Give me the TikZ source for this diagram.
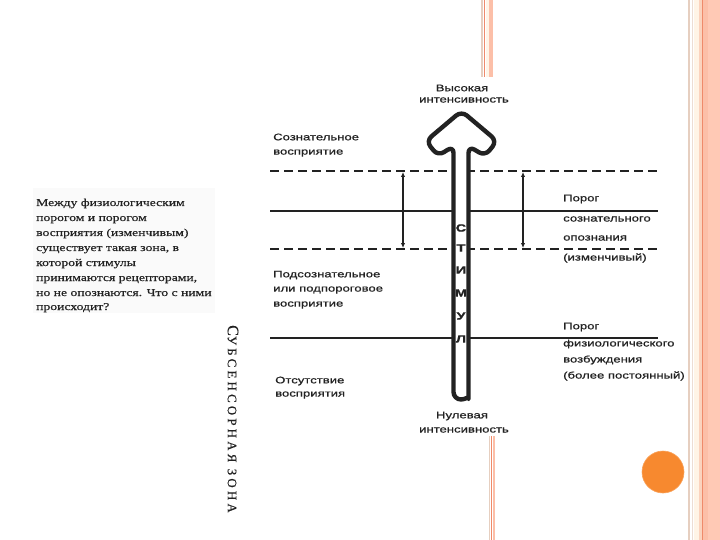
\documentclass[tikz,border=0pt]{standalone}
\usepackage{fontspec}
\setmainfont{Liberation Serif}
\newfontfamily\lab[FakeStretch=1.38,FakeBold=0.8]{Liberation Sans}
\newfontfamily\para[FakeStretch=1.3,FakeBold=0.4]{Liberation Serif}
\newfontfamily\vertfont[LetterSpace=24,FakeBold=0.3]{Liberation Serif}
\usetikzlibrary{arrows.meta}
\definecolor{ink}{HTML}{222222}
\definecolor{orng}{HTML}{F7892F}
\definecolor{tan}{HTML}{E6CFC0}
\definecolor{cream}{HTML}{FFF4E6}
\definecolor{peach}{HTML}{FBD3BE}
\definecolor{darkor}{HTML}{EF8A6A}
\definecolor{salm}{HTML}{FCBFA8}
\definecolor{lsalm}{HTML}{FFC9B5}
\tikzset{
  lbl/.style={font=\lab\fontsize{9.5}{11}\selectfont, text=ink, anchor=west, inner sep=0pt},
  clbl/.style={font=\lab\fontsize{9.5}{11}\selectfont, text=ink, anchor=center, inner sep=0pt},
  ptxt/.style={font=\para\fontsize{10.5}{12}\selectfont, text=ink, anchor=base west, inner sep=0pt},
  tubelet/.style={font=\lab\bfseries\fontsize{10.5}{11}\selectfont, text=ink, anchor=center, inner sep=0pt},
  solidln/.style={draw=ink, line width=1.4pt},
  dashln/.style={draw=ink, line width=1.7pt, dash pattern=on 9pt off 5pt},
  tube/.style={draw=ink, line width=4.4pt, fill=white, line join=round},
  dbl/.style={draw=ink, line width=1.3pt, {Latex[length=5pt,width=4.5pt]}-{Latex[length=5pt,width=4.5pt]}}
}
\begin{document}
\begin{tikzpicture}[x=1pt,y=-1pt]
\useasboundingbox (0,0) rectangle (720,540);
\fill[white] (0,0) rectangle (720,540);
% decorative stripes right edge
\fill[tan] (687.5,0) rectangle (689.5,540);
\fill[tan!70] (692,0) rectangle (693,540);
\fill[cream] (694,0) rectangle (699,540);
\fill[peach] (699,0) rectangle (701.5,540);
\fill[darkor] (701.5,0) rectangle (703,540);
\fill[salm] (703,0) rectangle (707.5,540);
\fill[lsalm] (707.5,0) rectangle (720,540);
% decorative stripes top and bottom
\fill[tan] (481,0) rectangle (483,77);
\fill[darkor] (484,0) rectangle (485,77);
\fill[cream] (486,0) rectangle (489,77);
\fill[salm] (489,0) rectangle (492.5,77);
\fill[tan] (488.5,436) rectangle (490,540);
\fill[darkor] (491,436) rectangle (492,540);
\fill[salm] (493,436) rectangle (494.5,540);
% orange circle
\node[circle, fill=orng, draw=orng!80!white, line width=0.6pt, minimum size=42pt, inner sep=0pt] (dot) at (663,472) {};
% paragraph backdrop
\fill[black!2] (33,188) rectangle (215,313);
\node[ptxt] (p1) at (36,206) {Между физиологическим};
\node[ptxt] (p2) at (36,221) {порогом и порогом};
\node[ptxt] (p3) at (36,236) {восприятия (изменчивым)};
\node[ptxt] (p4) at (36,251) {существует такая зона, в};
\node[ptxt] (p5) at (36,266) {которой стимулы};
\node[ptxt] (p6) at (36,281) {принимаются рецепторами,};
\node[ptxt] (p7) at (36,296) {но не опознаются. Что с ними};
\node[ptxt] (p8) at (36,310) {происходит?};
% vertical label
\node[rotate=-90, anchor=west, inner sep=0pt, text=ink] (sub) at (233,325)
  {\vertfont\fontsize{16}{16}\selectfont С\fontsize{13}{13}\selectfont УБСЕНСОРНАЯ ЗОНА};
% horizontal lines
\coordinate (ud1) at (270,171); \coordinate (ud2) at (658,171);
\coordinate (s11) at (270,211); \coordinate (s12) at (658,211);
\coordinate (ld1) at (270,249); \coordinate (ld2) at (658,249);
\coordinate (s21) at (270,338); \coordinate (s22) at (658,338);
\draw[dashln] (ud1) -- (ud2);
\draw[solidln] (s11) -- (s12);
\draw[dashln] (ld1) -- (ld2);
\draw[solidln] (s21) -- (s22);
% double arrows
\coordinate (a1t) at (403,172); \coordinate (a1b) at (403,248);
\coordinate (a2t) at (523,172); \coordinate (a2b) at (523,248);
\draw[dbl] (a1t) -- (a1b);
\draw[dbl] (a2t) -- (a2b);
% stimulus tube with arrow head
\draw[tube, rounded corners=7pt] (453.5,392) -- (453.5,146) -- (438,156) -- (426,141) -- (461.5,111) -- (497,141) -- (485,156) -- (468.5,146) -- (468.5,392) [sharp corners] arc[start angle=0, end angle=180, radius=7.5] -- cycle;
\node[tubelet] (c1) at (461,228) {С};
\node[tubelet] (c2) at (461,248) {Т};
\node[tubelet] (c3) at (461,270) {И};
\node[tubelet] (c4) at (461,293) {М};
\node[tubelet] (c5) at (461,316) {У};
\node[tubelet] (c6) at (461,339) {Л};
% labels
\node[clbl] (hi1) at (462,88) {Высокая};
\node[clbl] (hi2) at (464,100) {интенсивность};
\node[lbl] (cons1) at (273,137) {Сознательное};
\node[lbl] (cons2) at (273,153) {восприятие};
\node[lbl] (t1a) at (563,199) {Порог};
\node[lbl] (t1b) at (563,219) {сознательного};
\node[lbl] (t1c) at (563,238) {опознания};
\node[lbl] (t1d) at (563,258) {(изменчивый)};
\node[lbl] (sub1) at (273,275) {Подсознательное};
\node[lbl] (sub2) at (273,290) {или подпороговое};
\node[lbl] (sub3) at (273,305) {восприятие};
\node[lbl] (t2a) at (563,327) {Порог};
\node[lbl] (t2b) at (563,344) {физиологического};
\node[lbl] (t2c) at (563,360) {возбуждения};
\node[lbl] (t2d) at (563,376) {(более постоянный)};
\node[lbl] (abs1) at (275,381) {Отсутствие};
\node[lbl] (abs2) at (275,395) {восприятия};
\node[clbl] (lo1) at (462,416) {Нулевая};
\node[clbl] (lo2) at (464,430) {интенсивность};
\end{tikzpicture}
\end{document}
